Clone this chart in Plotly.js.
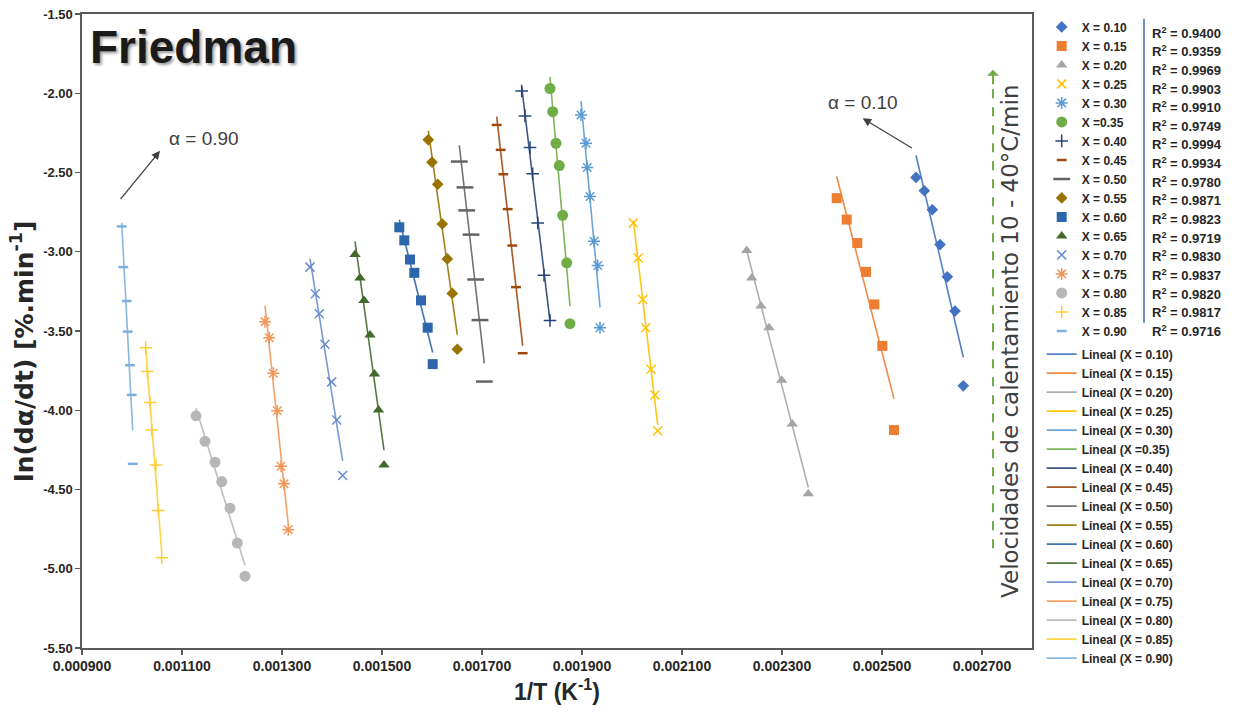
<!DOCTYPE html>
<html>
<head>
<meta charset="utf-8">
<script src="https://cdn.plot.ly/plotly-3.0.1.min.js"></script>
<style>html,body{margin:0;padding:0;background:#fff;}#chart{width:1234px;height:717px;}</style>
</head>
<body>
<div id="chart"></div>
<script>
// ---- Data ----
const seriesNames = ["X = 0.10","X = 0.15","X = 0.20","X = 0.25","X = 0.30","X =0.35","X = 0.40","X = 0.45","X = 0.50","X = 0.55","X = 0.60","X = 0.65","X = 0.70","X = 0.75","X = 0.80","X = 0.85","X = 0.90"];
const lineNames = ["Lineal (X = 0.10)","Lineal (X = 0.15)","Lineal (X = 0.20)","Lineal (X = 0.25)","Lineal (X = 0.30)","Lineal (X =0.35)","Lineal (X = 0.40)","Lineal (X = 0.45)","Lineal (X = 0.50)","Lineal (X = 0.55)","Lineal (X = 0.60)","Lineal (X = 0.65)","Lineal (X = 0.70)","Lineal (X = 0.75)","Lineal (X = 0.80)","Lineal (X = 0.85)","Lineal (X = 0.90)"];
const r2Values = ["0.9400","0.9359","0.9969","0.9903","0.9910","0.9749","0.9994","0.9934","0.9780","0.9871","0.9823","0.9719","0.9830","0.9837","0.9820","0.9817","0.9716"];

const x10 = [0.0025680, 0.0025846, 0.0026006, 0.0026160, 0.0026306, 0.0026460, 0.0026626];
const y10 = [-2.531, -2.615, -2.735, -2.955, -3.158, -3.374, -3.846];
const x15 = [0.0024094, 0.0024294, 0.0024506, 0.0024680, 0.0024846, 0.0025006, 0.0025240];
const y15 = [-2.662, -2.797, -2.945, -3.127, -3.332, -3.594, -4.125];
const x20 = [0.0022294, 0.0022394, 0.0022580, 0.0022740, 0.0022994, 0.0023206, 0.0023526];
const y20 = [-2.992, -3.165, -3.343, -3.479, -3.810, -4.087, -4.527];
const x25 = [0.0020026, 0.0020126, 0.0020214, 0.0020274, 0.0020380, 0.0020460, 0.0020514];
const y25 = [-2.819, -3.039, -3.301, -3.479, -3.741, -3.904, -4.129];
const x30 = [0.0018980, 0.0019080, 0.0019106, 0.0019160, 0.0019240, 0.0019314, 0.0019360];
const y30 = [-2.137, -2.316, -2.469, -2.651, -2.934, -3.087, -3.479];
const x35 = [0.0018360, 0.0018414, 0.0018480, 0.0018546, 0.0018614, 0.0018694, 0.0018760];
const y35 = [-1.970, -2.116, -2.316, -2.456, -2.770, -3.070, -3.454];
const x40 = [0.0017794, 0.0017860, 0.0017960, 0.0018014, 0.0018114, 0.0018240, 0.0018360];
const y40 = [-1.986, -2.143, -2.343, -2.508, -2.819, -3.148, -3.433];
const x45 = [0.0017294, 0.0017374, 0.0017426, 0.0017514, 0.0017606, 0.0017680, 0.0017814];
const y45 = [-2.200, -2.357, -2.511, -2.731, -2.961, -3.223, -3.640];
const x50 = [0.0016546, 0.0016660, 0.0016694, 0.0016780, 0.0016874, 0.0016960, 0.0017046];
const y50 = [-2.431, -2.594, -2.739, -2.892, -3.175, -3.431, -3.819];
const x55 = [0.0015926, 0.0016000, 0.0016114, 0.0016206, 0.0016306, 0.0016406, 0.0016506];
const y55 = [-2.294, -2.435, -2.574, -2.825, -3.045, -3.263, -3.615];
const x60 = [0.0015346, 0.0015446, 0.0015560, 0.0015646, 0.0015780, 0.0015914, 0.0016014];
const y60 = [-2.846, -2.928, -3.049, -3.133, -3.307, -3.479, -3.709];
const x65 = [0.0014460, 0.0014560, 0.0014640, 0.0014760, 0.0014850, 0.0014930, 0.0015040];
const y65 = [-3.018, -3.165, -3.307, -3.525, -3.772, -3.999, -4.346];
const x70 = [0.0013560, 0.0013666, 0.0013746, 0.0013860, 0.0013994, 0.0014094, 0.0014214];
const y70 = [-3.097, -3.265, -3.391, -3.584, -3.821, -4.062, -4.412];
const x75 = [0.0012660, 0.0012746, 0.0012826, 0.0012906, 0.0012980, 0.0013040, 0.0013126];
const y75 = [-3.441, -3.542, -3.766, -4.003, -4.353, -4.464, -4.754];
const x80 = [0.0011280, 0.0011460, 0.0011660, 0.0011794, 0.0011960, 0.0012106, 0.0012260];
const y80 = [-4.035, -4.196, -4.328, -4.450, -4.618, -4.838, -5.047];
const x85 = [0.0010274, 0.0010306, 0.0010360, 0.0010394, 0.0010480, 0.0010526, 0.0010594];
const y85 = [-3.605, -3.756, -3.951, -4.125, -4.345, -4.632, -4.930];
const x90 = [0.0009794, 0.0009826, 0.0009894, 0.0009914, 0.0009960, 0.0009994, 0.0010014];
const y90 = [-2.840, -3.097, -3.311, -3.504, -3.716, -3.903, -4.338];

const xTickVals = [0.0009, 0.0011, 0.0013, 0.0015, 0.0017, 0.0019, 0.0021, 0.0023, 0.0025, 0.0027];
const xTickText = ["0.000900","0.001100","0.001300","0.001500","0.001700","0.001900","0.002100","0.002300","0.002500","0.002700"];
const yTickVals = [-5.5, -5.0, -4.5, -4.0, -3.5, -3.0, -2.5, -2.0, -1.5];
const yTickText = ["-5.50","-5.00","-4.50","-4.00","-3.50","-3.00","-2.50","-2.00","-1.50"];

// ---- Styles ----
const xs = [x10,x15,x20,x25,x30,x35,x40,x45,x50,x55,x60,x65,x70,x75,x80,x85,x90];
const ys = [y10,y15,y20,y25,y30,y35,y40,y45,y50,y55,y60,y65,y70,y75,y80,y85,y90];
const colors = ["#4472C4","#ED7D31","#A5A5A5","#FFC000","#5B9BD5","#70AD47","#264478","#9E480E","#636363","#997300","#2B67AA","#43682B","#698ED0","#F1975A","#B7B7B7","#FFCD33","#7CAFDD"];
const symbols = ["diamond","square","triangle-up","x-thin-open","asterisk-open","circle","cross-thin-open","line-ew-open","line-ew-open","diamond","square","triangle-up","x-thin-open","asterisk-open","circle","cross-thin-open","line-ew-open"];
const sizes = [9,10,10,9,10,11,9,7,12,9,10,10,9,10,11,9,7];
const openLW = [0,0,0,1.5,1.5,0,1.5,2.5,2.5,0,0,0,1.5,1.5,0,1.5,2.5];

function linfit(x, y) {
  const n = x.length;
  let sx=0, sy=0, sxx=0, sxy=0;
  for (let i=0;i<n;i++){ sx+=x[i]; sy+=y[i]; sxx+=x[i]*x[i]; sxy+=x[i]*y[i]; }
  const m = (n*sxy - sx*sy)/(n*sxx - sx*sx);
  const b = (sy - m*sx)/n;
  return {m, b};
}

const lineTraces = [];
const markerTraces = [];
for (let i=0;i<xs.length;i++){
  const f = linfit(xs[i], ys[i]);
  const xmin = Math.min(...xs[i]), xmax = Math.max(...xs[i]);
  lineTraces.push({
    type:'scatter', mode:'lines', name: lineNames[i], legend:'legend2',
    x:[xmin, xmax], y:[f.m*xmin+f.b, f.m*xmax+f.b],
    line:{color: colors[i], width:1.6}, opacity:0.9, hoverinfo:'skip'
  });
  const isOpen = openLW[i] > 0;
  markerTraces.push({
    type:'scatter', mode:'markers', name: seriesNames[i], legend:'legend',
    x: xs[i], y: ys[i],
    marker: isOpen ?
      {symbol: symbols[i], size: sizes[i], color: colors[i], line:{color: colors[i], width: openLW[i]}} :
      {symbol: symbols[i], size: sizes[i], color: colors[i], line:{width:0}}
  });
}

// ---- Layout helpers (pixel -> paper) ----
const L = 82, R = 1032, T = 12, B = 648;
const px = v => (v - L)/(R - L);
const py = v => (B - v)/(B - T);

const annotations = [
  {xref:'paper', yref:'paper', x:px(88), y:py(45), xanchor:'left', yanchor:'middle', showarrow:false,
   text:'Friedman', font:{family:'Liberation Sans', size:46, weight:'bold', color:'#1a1a1a', shadow:'2px 2px 3px rgba(0,0,0,0.4)'}},
  {xref:'paper', yref:'paper', x:px(23), y:py(351), xanchor:'center', yanchor:'middle', showarrow:false, textangle:-90,
   text:'ln(dα/dt) [%.min<sup>-1</sup>]', font:{family:'DejaVu Sans', size:25, weight:'bold', color:'#262626'}},
  {xref:'x', yref:'y', x:0.001143, y:-2.284, showarrow:false, text:'α = 0.90',
   font:{family:'Liberation Sans', size:19, color:'#404040'}},
  {xref:'x', yref:'y', x:0.001056, y:-2.3635, axref:'x', ayref:'y', ax:0.0009746, ay:-2.678, text:'', showarrow:true,
   arrowhead:2, arrowsize:1.3, arrowwidth:1.3, arrowcolor:'#404040'},
  {xref:'x', yref:'y', x:0.0024626, y:-2.0585, showarrow:false, text:'α = 0.10',
   font:{family:'Liberation Sans', size:19, color:'#404040'}},
  {xref:'x', yref:'y', x:0.0024614, y:-2.1585, axref:'x', ayref:'y', ax:0.0025626, ay:-2.351, text:'', showarrow:true,
   arrowhead:2, arrowsize:1.3, arrowwidth:1.3, arrowcolor:'#404040'},
  {xref:'x', yref:'y', x:0.002722, y:-1.852, ax:0, ay:16, text:'', showarrow:true,
   arrowhead:1, arrowsize:1, arrowwidth:2, arrowcolor:'#70AD47'},
  {xref:'paper', yref:'paper', x:px(1010), y:py(341), xanchor:'center', yanchor:'middle', showarrow:false, textangle:-90,
   text:'Velocidades de calentamiento 10 - 40°C/min', font:{family:'DejaVu Sans', size:23, color:'#404040'}}
];
for (let i=0;i<r2Values.length;i++){
  annotations.push({xref:'paper', yref:'paper', x:px(1150), y:py(30.7 + i*18.7), xanchor:'left', yanchor:'middle', showarrow:false,
    text:'R<sup>2</sup> = ' + r2Values[i], font:{family:'Liberation Sans', size:13, weight:'bold', color:'#262626'}});
}

const layout = {
  width:1234, height:717,
  margin:{l:L, r:1234-R, t:T, b:717-B, pad:0},
  paper_bgcolor:'#ffffff', plot_bgcolor:'#ffffff',
  showlegend:true,
  xaxis:{
    range:[0.0009, 0.0028], tickvals:xTickVals, ticktext:xTickText,
    ticks:'outside', ticklen:5, tickwidth:1.3, tickcolor:'#595959',
    showline:true, linecolor:'#595959', linewidth:1.6, mirror:true,
    showgrid:false, zeroline:false, automargin:false,
    tickfont:{family:'Liberation Sans', size:14, weight:'bold', color:'#262626'},
    title:{text:'1/T (K<sup>-1</sup>)', standoff:10, font:{family:'Liberation Sans', size:23, weight:'bold', color:'#262626'}}
  },
  yaxis:{
    range:[-5.5, -1.5], tickvals:yTickVals, ticktext:yTickText,
    ticks:'outside', ticklen:5, tickwidth:1.3, tickcolor:'#595959',
    showline:true, linecolor:'#595959', linewidth:1.6, mirror:true,
    showgrid:false, zeroline:false, automargin:false,
    tickfont:{family:'Liberation Sans', size:13, weight:'bold', color:'#262626'}
  },
  legend:{x:px(1041.7), xanchor:'left', y:py(10.4), yanchor:'top', bgcolor:'rgba(0,0,0,0)', borderwidth:0,
    font:{family:'Liberation Sans', size:12, weight:'bold', color:'#262626'}, tracegroupgap:0},
  legend2:{x:px(1041.7), xanchor:'left', y:py(338.7), yanchor:'top', bgcolor:'rgba(0,0,0,0)', borderwidth:0,
    font:{family:'Liberation Sans', size:12, weight:'bold', color:'#262626'}, tracegroupgap:0},
  shapes:[
    {type:'line', xref:'x', yref:'y', x0:0.002722, x1:0.002722, y0:-4.871, y1:-1.90,
     line:{color:'#70AD47', width:2, dash:'dash'}},
    {type:'line', xref:'paper', yref:'paper', x0:px(1144), x1:px(1144), y0:py(16.7), y1:py(321.7),
     line:{color:'#6F8FC4', width:2}}
  ],
  annotations: annotations
};

Plotly.newPlot('chart', lineTraces.concat(markerTraces), layout, {displayModeBar:false, staticPlot:true});
</script>
</body>
</html>
